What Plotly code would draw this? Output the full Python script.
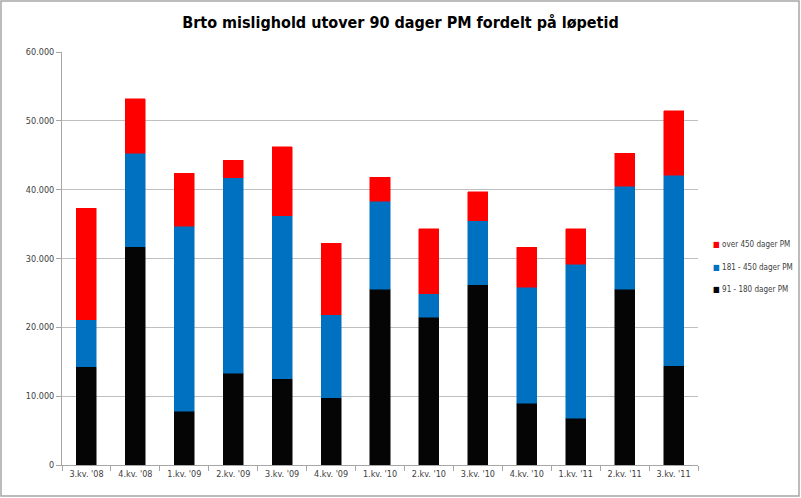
import plotly.graph_objects as go

categories = ["3.kv. '08", "4.kv. '08", "1.kv. '09", "2.kv. '09", "3.kv. '09", "4.kv. '09",
              "1.kv. '10", "2.kv. '10", "3.kv. '10", "4.kv. '10", "1.kv. '11", "2.kv. '11", "3.kv. '11"]
d91_180 = [14300, 31700, 7800, 13300, 12500, 9800, 25500, 21500, 26200, 9000, 6800, 25500, 14400]
d181_450 = [6800, 13600, 26900, 28400, 23700, 12000, 12800, 3400, 9300, 16800, 22400, 15000, 27700]
over450 = [16200, 7900, 7700, 2600, 10000, 10400, 3500, 9400, 4200, 5800, 5100, 4800, 9400]

names = ["91 - 180 dager PM", "181 - 450 dager PM", "over 450 dager PM"]
colors = ["#050505", "#0070C0", "#FF0000"]
series = [d91_180, d181_450, over450]

font_fam = "DejaVu Sans Condensed, Liberation Sans Narrow, sans-serif"

fig = go.Figure()
for n, c, s in zip(names, colors, series):
    fig.add_trace(go.Bar(x=categories, y=s, name=n, showlegend=False,
                         marker=dict(color=c, line=dict(color=c, width=0.5))))

# legend drawn as text entries (top to bottom: reversed series order)
legend_y = [0.424, 0.477, 0.533]
for n, c, ly in zip(names, colors, legend_y):
    fig.add_annotation(xref="paper", yref="paper", x=1.02, y=ly, xanchor="left", yanchor="middle",
                       showarrow=False,
                       text=f"<span style='color:{c}'>■</span><span style='color:#404040'> {n}</span>",
                       font=dict(family=font_fam, size=8))

fig.update_layout(
    barmode="stack",
    bargap=0.59,
    width=801, height=498,
    margin=dict(l=62, r=103, t=52, b=33, autoexpand=False),
    paper_bgcolor="white", plot_bgcolor="white",
    separators=",.",
    title=dict(text="<b>Brto mislighold utover 90 dager PM fordelt på løpetid</b>",
               x=0.5, xanchor="center", y=0.955, yanchor="middle",
               font=dict(family=font_fam, size=16, color="#000000")),
    showlegend=False,
    font=dict(family=font_fam, size=9, color="#404040"),
)
fig.update_yaxes(range=[0, 60000], dtick=10000, tickformat=",d",
                 showgrid=True, gridcolor="#BFBFBF", gridwidth=1,
                 showline=True, linecolor="#A6A6A6", ticks="outside", ticklen=5,
                 tickcolor="#A6A6A6", zeroline=False,
                 tickfont=dict(family=font_fam, size=9, color="#404040"))
fig.update_xaxes(showline=True, linecolor="#A6A6A6", ticks="outside", ticklen=5,
                 tickcolor="#A6A6A6", tickson="boundaries", tickangle=0,
                 tickfont=dict(family=font_fam, size=9, color="#404040"))
fig.add_shape(type="rect", xref="paper", yref="paper",
              x0=-61 / 636, x1=1 + 101 / 636, y0=-31 / 413, y1=1 + 51 / 413,
              line=dict(color="#A6A6A6", width=1.5), fillcolor="rgba(0,0,0,0)", layer="below")

fig.write_html("out.html", config={"displayModeBar": False},
               post_script="document.body.style.margin='0';document.body.style.overflow='hidden';")
